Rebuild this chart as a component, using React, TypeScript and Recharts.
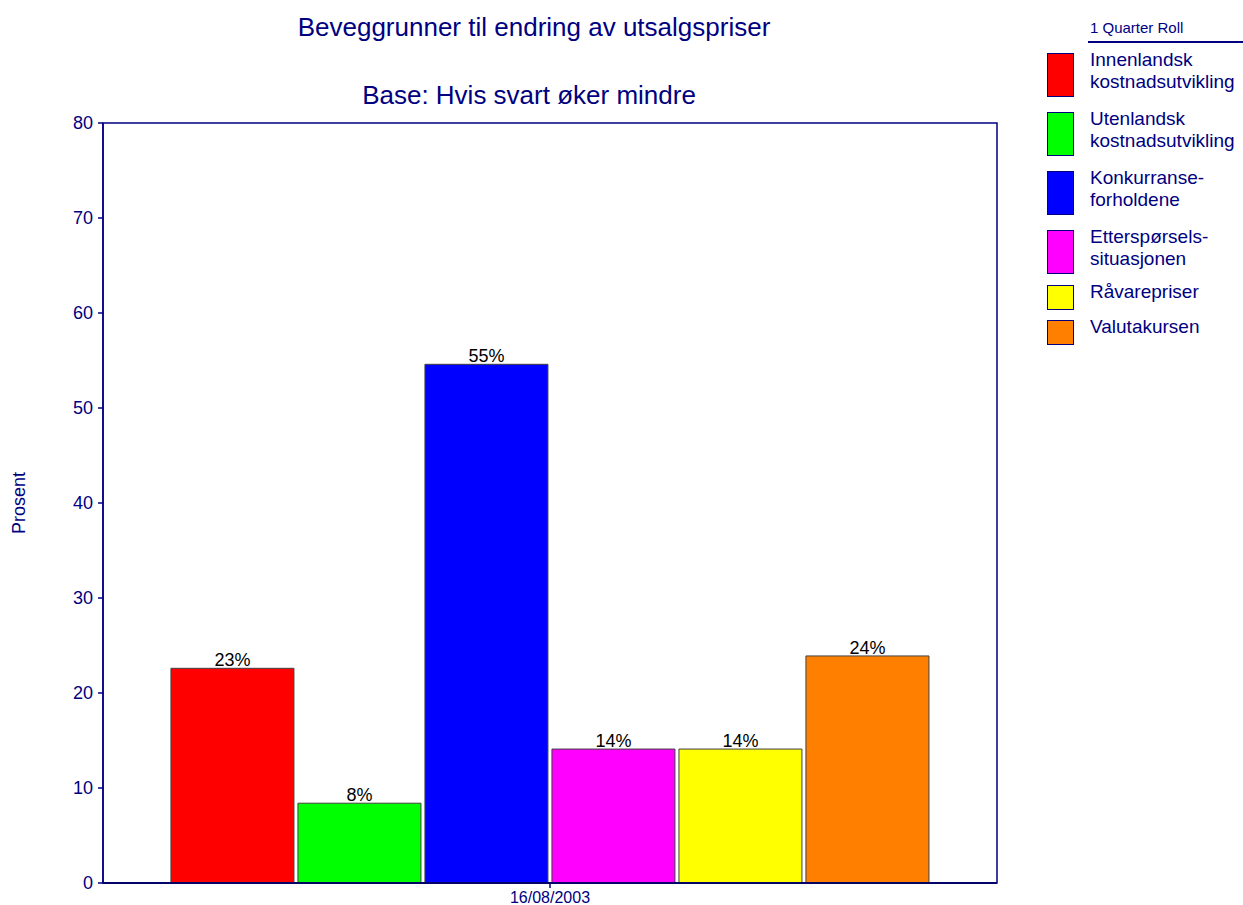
import React from "react";
import {
  BarChart,
  Bar,
  XAxis,
  YAxis,
  ReferenceLine,
  ReferenceArea,
  LabelList,
} from "recharts";

// Survey round shown on the x axis
const categories = ["16/08/2003"];

// One bar per reason
const seriesKeys = ["innen", "uten", "konk", "etter", "ravare", "valuta"];
const seriesLabels = [
  ["Innenlandsk", "kostnadsutvikling"],
  ["Utenlandsk", "kostnadsutvikling"],
  ["Konkurranse-", "forholdene"],
  ["Etterspørsels-", "situasjonen"],
  ["Råvarepriser"],
  ["Valutakursen"],
];
const seriesColors = ["#FF0000", "#00FF00", "#0000FF", "#FF00FF", "#FFFF00", "#FF8000"];
const seriesValues = [22.6, 8.4, 54.6, 14.1, 14.1, 23.9];

const yTicks = [0, 10, 20, 30, 40, 50, 60, 70, 80];

const title = "Beveggrunner til endring av utsalgspriser";
const subtitle = "Base: Hvis svart øker mindre";
const legendTitle = "1 Quarter Roll";
const yLabel = "Prosent";

const NAVY = "#000080";
const FONT = "Arial, 'Liberation Sans', sans-serif";

const data = categories.map((cat) => {
  const row: Record<string, string | number> = { date: cat };
  seriesKeys.forEach((k, i) => {
    row[k] = seriesValues[i];
  });
  return row;
});

function ChartLegend() {
  return (
    <div style={{ position: "absolute", left: 0, top: 0, fontFamily: FONT, color: NAVY }}>
      <div
        style={{ position: "absolute", left: 1090, top: 18, fontSize: 15, lineHeight: "20px", whiteSpace: "nowrap" }}
      >
        {legendTitle}
      </div>
      <div style={{ position: "absolute", left: 1088, top: 41, width: 155, height: 2, background: NAVY }} />
      <div style={{ position: "absolute", left: 1047, top: 49 }}>
        {seriesLabels.map((lines, i) => {
          const next = seriesLabels[i + 1];
          const gap = lines.length === 2 ? (next && next.length === 2 ? 11 : 7) : 6;
          return (
            <div key={i} style={{ display: "flex", marginBottom: gap }}>
              <div
                style={{
                  marginTop: 4,
                  width: 25,
                  height: lines.length === 2 ? 42 : 23,
                  background: seriesColors[i],
                  border: `1px solid ${NAVY}`,
                  flexShrink: 0,
                }}
              />
              <div style={{ marginLeft: 16, fontSize: 19, lineHeight: "22px", whiteSpace: "nowrap" }}>
                {lines.map((l, j) => (
                  <div key={j}>{l}</div>
                ))}
              </div>
            </div>
          );
        })}
      </div>
    </div>
  );
}

export default function App() {
  return (
    <div style={{ position: "absolute", left: 0, top: 0, width: 1243, height: 905, background: "#fff", fontFamily: FONT }}>
      <style>{"body{margin:0}"}</style>
      <div
        style={{ position: "absolute", left: 0, top: 12, width: 1068, textAlign: "center", fontSize: 26, lineHeight: "30px", color: NAVY }}
      >
        {title}
      </div>
      <div
        style={{ position: "absolute", left: 0, top: 80, width: 1058, textAlign: "center", fontSize: 26, lineHeight: "30px", color: NAVY }}
      >
        {subtitle}
      </div>

      <BarChart
        width={1243}
        height={905}
        data={data}
        margin={{ top: 123, right: 246, bottom: 2, left: 0 }}
        barCategoryGap="7.6%"
        barGap={4}
        style={{ position: "absolute", left: 0, top: 0 }}
      >
        <ReferenceArea y1={0} y2={80} fill="none" stroke={NAVY} strokeWidth={1.5} ifOverflow="visible" />
        <XAxis
          dataKey="date"
          height={20}
          stroke={NAVY}
          strokeWidth={1.5}
          tickSize={5}
          tickMargin={4}
          tick={{ fill: NAVY, fontSize: 16, fontFamily: FONT }}
        />
        <YAxis
          width={103}
          domain={[0, 80]}
          ticks={yTicks}
          interval={0}
          stroke={NAVY}
          strokeWidth={1.5}
          tickSize={5}
          tickMargin={5}
          tick={{ fill: NAVY, fontSize: 18, fontFamily: FONT }}
          label={{
            content: () => (
              <text
                x={25}
                y={503}
                transform="rotate(-90 25 503)"
                textAnchor="middle"
                fill={NAVY}
                fontSize={18}
                fontFamily={FONT}
              >
                {yLabel}
              </text>
            ),
          }}
        />
        {seriesKeys.map((k, i) => (
          <Bar
            key={k}
            dataKey={k}
            fill={seriesColors[i]}
            stroke="#404040"
            strokeWidth={1}
            isAnimationActive={false}
          >
            <LabelList
              dataKey={k}
              position="top"
              offset={2}
              fill="#000"
              fontSize={18}
              fontFamily={FONT}
              formatter={(v: any) => `${Math.round(Number(v))}%`}
            />
          </Bar>
        ))}
        <ReferenceLine y={0} stroke="#000" strokeWidth={1.5} ifOverflow="visible" />
      </BarChart>

      <ChartLegend />
    </div>
  );
}
